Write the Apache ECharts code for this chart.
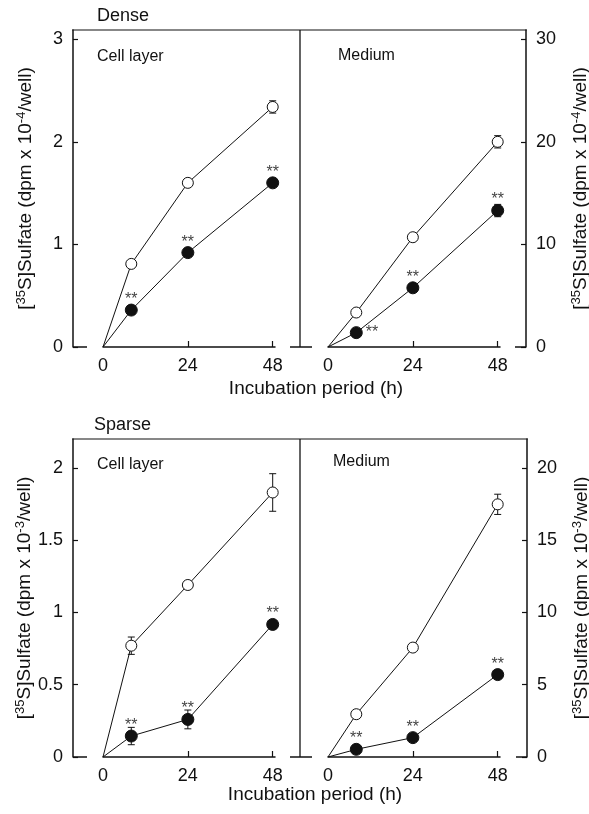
<!DOCTYPE html>
<html>
<head>
<meta charset="utf-8">
<script src="https://cdn.jsdelivr.net/npm/echarts@6/dist/echarts.min.js"></script>
<style>
html,body{margin:0;padding:0;background:#fff;}
#chart{width:589px;height:814px;}
</style>
</head>
<body>
<div id="chart"></div>
<script>
// ---------- data ----------
const hours = [0, 8, 24, 48];
const xTickLabels = [0, 24, 48];
const xTickMarks = [24, 48];

const denseCellTicks = [0, 1, 2, 3];
const denseMedTicks = [0, 10, 20, 30];
const sparseCellTicks = [0, 0.5, 1, 1.5, 2];
const sparseMedTicks = [0, 5, 10, 15, 20];

const denseCellOpen = [0, 0.81, 1.60, 2.34];
const denseCellOpenErr = [0, 0, 0, 0.06];
const denseCellFilled = [0, 0.36, 0.92, 1.60];
const denseCellFilledErr = [0, 0, 0, 0];
const denseCellSig = ['', '**', '**', '**'];
const denseCellSigPos = ['top', 'top', 'top', 'top'];

const denseMedOpen = [0, 3.36, 10.7, 20.0];
const denseMedOpenErr = [0, 0, 0, 0.6];
const denseMedFilled = [0, 1.4, 5.77, 13.3];
const denseMedFilledErr = [0, 0, 0, 0.6];
const denseMedSig = ['', '**', '**', '**'];
const denseMedSigPos = ['top', 'right', 'top', 'top'];

const sparseCellOpen = [0, 0.77, 1.19, 1.83];
const sparseCellOpenErr = [0, 0.06, 0, 0.13];
const sparseCellFilled = [0, 0.145, 0.26, 0.917];
const sparseCellFilledErr = [0, 0.06, 0.065, 0];
const sparseCellSig = ['', '**', '**', '**'];
const sparseCellSigPos = ['top', 'top', 'top', 'top'];

const sparseMedOpen = [0, 2.96, 7.57, 17.48];
const sparseMedOpenErr = [0, 0, 0, 0.7];
const sparseMedFilled = [0, 0.53, 1.34, 5.7];
const sparseMedFilledErr = [0, 0, 0, 0];
const sparseMedSig = ['', '**', '**', '**'];
const sparseMedSigPos = ['top', 'top', 'top', 'top'];

const titleDense = 'Dense';
const titleSparse = 'Sparse';
const labelCell = 'Cell layer';
const labelMedium = 'Medium';
const xTitle = 'Incubation period (h)';

// ---------- layout ----------
const FONT = "'Liberation Sans', Arial, Helvetica, sans-serif";
const INK = '#111';
const L_AXIS = 73, DIV = 300;
const LP_LEFT = 103, RP_LEFT = 328, P_W = 172;
const rows = [
  {top: 30, bottom: 347, rightAxis: 526},
  {top: 439, bottom: 757, rightAxis: 527}
];
const X_MAX = 48.65;

const grids = [];
rows.forEach(r => {
  grids.push({left: LP_LEFT, top: r.top, width: P_W, height: r.bottom - r.top, containLabel: false, outerBoundsMode: 'none'});
  grids.push({left: RP_LEFT, top: r.top, width: P_W, height: r.bottom - r.top, containLabel: false, outerBoundsMode: 'none'});
});

function xAx(g) {
  return {
    type: 'value', gridIndex: g, min: 0, max: X_MAX,
    axisLine: {show: true, onZero: false, lineStyle: {color: INK, width: 1.5}},
    axisTick: {show: true, inside: true, length: 6, customValues: xTickMarks, lineStyle: {color: INK, width: 1.2}},
    axisLabel: {show: true, customValues: xTickLabels, margin: 10, fontSize: 18, fontFamily: FONT, color: INK},
    splitLine: {show: false}
  };
}

function richName(exp) {
  return '{b|[}{s|35}{b|S]Sulfate (dpm x 10}{s|' + exp + '}{b|/well)}';
}
const nameStyle = {
  fontFamily: FONT, color: INK, fontSize: 19,
  rich: {
    b: {fontFamily: FONT, color: INK, fontSize: 19, lineHeight: 22},
    s: {fontFamily: FONT, color: INK, fontSize: 13, lineHeight: 13, verticalAlign: 'top'}
  }
};

function yAx(g, pos, offset, max, ticks, exp, gap) {
  return {
    type: 'value', gridIndex: g, position: pos, offset: offset, min: 0, max: max,
    axisLine: {show: true, onZero: false, lineStyle: {color: INK, width: 1.5}},
    axisTick: {show: true, inside: true, length: 5, customValues: ticks, lineStyle: {color: INK, width: 1.2}},
    axisLabel: {show: true, customValues: ticks, margin: 10, fontSize: 18, fontFamily: FONT, color: INK},
    splitLine: {show: false},
    name: richName(exp), nameLocation: 'middle', nameGap: gap, nameRotate: 90,
    nameTextStyle: nameStyle
  };
}

function lineSeries(g, vals, sig, sigPos, filled) {
  return {
    type: 'line', xAxisIndex: g, yAxisIndex: g,
    data: hours.map((h, i) => ({
      value: [h, vals[i]],
      symbol: i === 0 ? 'none' : 'circle',
      label: {
        show: !!(filled && sig[i]), position: sigPos[i], formatter: sig[i],
        distance: sigPos[i] === 'right' ? 3 : -4
      }
    })),
    symbolSize: filled ? 12 : 11,
    itemStyle: {color: filled ? INK : '#fff', borderColor: INK, borderWidth: 1},
    lineStyle: {color: INK, width: 1},
    label: {fontSize: 16, fontFamily: FONT, color: '#444'},
    emphasis: {disabled: true},
    z: 3, silent: true, animation: false
  };
}

function errSeries(g, vals, errs) {
  const data = hours.map((h, i) => [h, vals[i], errs[i]]).filter(d => d[2] > 0);
  return {
    type: 'custom', xAxisIndex: g, yAxisIndex: g, data: data,
    encode: {x: 0, y: 1}, z: 2, silent: true, animation: false,
    renderItem: function (params, api) {
      const x = api.value(0), y = api.value(1), e = api.value(2);
      const t = api.coord([x, y + e]);
      const b = api.coord([x, y - e]);
      const w = 3.5;
      const st = {stroke: INK, lineWidth: 1, fill: null};
      return {type: 'group', children: [
        {type: 'line', shape: {x1: t[0], y1: t[1], x2: b[0], y2: b[1]}, style: st},
        {type: 'line', shape: {x1: t[0] - w, y1: t[1], x2: t[0] + w, y2: t[1]}, style: st},
        {type: 'line', shape: {x1: b[0] - w, y1: b[1], x2: b[0] + w, y2: b[1]}, style: st}
      ]};
    }
  };
}

// frame decorations (top border, divider, broken bottom stubs)
const graphics = [];
function gLine(x1, y1, x2, y2, w) {
  graphics.push({type: 'line', silent: true, shape: {x1, y1, x2, y2}, style: {stroke: INK, lineWidth: w}});
}
function gText(text, x, y, size, align) {
  graphics.push({type: 'text', silent: true, x: x, y: y,
    style: {text: text, fontSize: size, fontFamily: FONT, fill: INK, align: align || 'left', verticalAlign: 'middle'}});
}
rows.forEach(r => {
  gLine(L_AXIS - 0.75, r.top, r.rightAxis + 0.75, r.top, 1.2);
  gLine(DIV, r.top, DIV, r.bottom, 1.3);
  gLine(L_AXIS, r.bottom, L_AXIS + 14, r.bottom, 1.5);
  gLine(DIV - 10, r.bottom, DIV + 12, r.bottom, 1.5);
  gLine(r.rightAxis - 11, r.bottom, r.rightAxis, r.bottom, 1.5);
});
gText(titleDense, 97, 16, 18);
gText(labelCell, 97, 57, 16);
gText(labelMedium, 338, 56, 16);
gText(xTitle, 316, 389, 19, 'center');
gText(titleSparse, 94, 425, 18);
gText(labelCell, 97, 465, 16);
gText(labelMedium, 333, 462, 16);
gText(xTitle, 315, 795, 19, 'center');

const option = {
  animation: false,
  backgroundColor: '#fff',
  textStyle: {fontFamily: FONT},
  grid: grids,
  xAxis: [xAx(0), xAx(1), xAx(2), xAx(3)],
  yAxis: [
    yAx(0, 'left', LP_LEFT - L_AXIS, 3.09, denseCellTicks, '-4', 36),
    yAx(1, 'right', rows[0].rightAxis - (RP_LEFT + P_W), 30.9, denseMedTicks, '-4', 44),
    yAx(2, 'left', LP_LEFT - L_AXIS, 2.2, sparseCellTicks, '-3', 36),
    yAx(3, 'right', rows[1].rightAxis - (RP_LEFT + P_W), 22, sparseMedTicks, '-3', 44)
  ],
  series: [
    errSeries(0, denseCellOpen, denseCellOpenErr),
    errSeries(0, denseCellFilled, denseCellFilledErr),
    lineSeries(0, denseCellOpen, denseCellSig, denseCellSigPos, false),
    lineSeries(0, denseCellFilled, denseCellSig, denseCellSigPos, true),
    errSeries(1, denseMedOpen, denseMedOpenErr),
    errSeries(1, denseMedFilled, denseMedFilledErr),
    lineSeries(1, denseMedOpen, denseMedSig, denseMedSigPos, false),
    lineSeries(1, denseMedFilled, denseMedSig, denseMedSigPos, true),
    errSeries(2, sparseCellOpen, sparseCellOpenErr),
    errSeries(2, sparseCellFilled, sparseCellFilledErr),
    lineSeries(2, sparseCellOpen, sparseCellSig, sparseCellSigPos, false),
    lineSeries(2, sparseCellFilled, sparseCellSig, sparseCellSigPos, true),
    errSeries(3, sparseMedOpen, sparseMedOpenErr),
    errSeries(3, sparseMedFilled, sparseMedFilledErr),
    lineSeries(3, sparseMedOpen, sparseMedSig, sparseMedSigPos, false),
    lineSeries(3, sparseMedFilled, sparseMedSig, sparseMedSigPos, true)
  ],
  graphic: graphics
};

const chart = echarts.init(document.getElementById('chart'), null, {renderer: 'canvas'});
chart.setOption(option);
</script>
</body>
</html>
